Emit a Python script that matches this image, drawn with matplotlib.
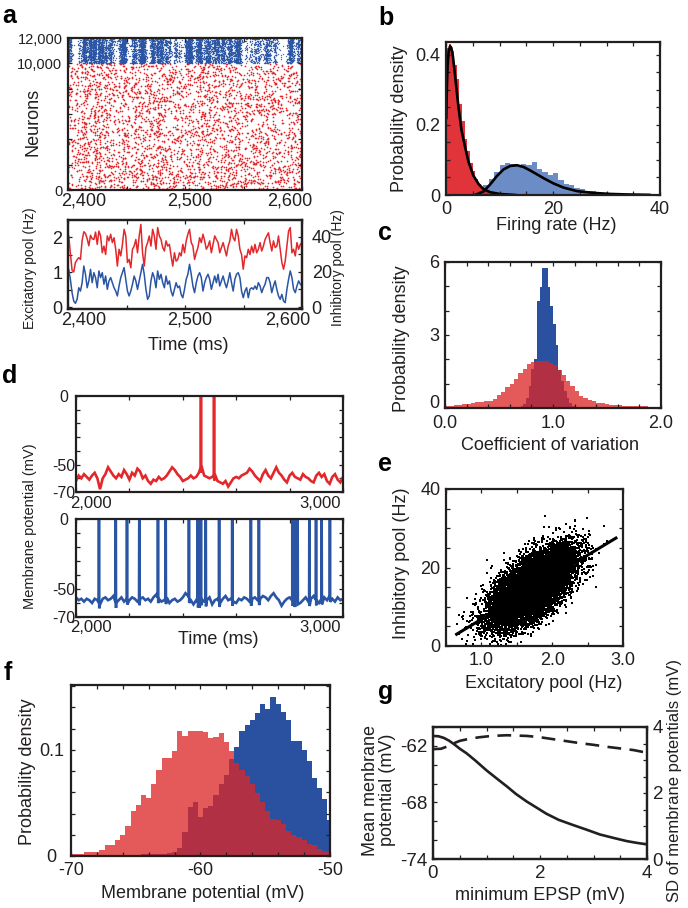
import numpy as np
import matplotlib
matplotlib.use("Agg")
import matplotlib.pyplot as plt

plt.rcParams["font.family"] = ["Liberation Sans", "DejaVu Sans"]
plt.rcParams["axes.unicode_minus"] = False
INK = "#231F20"
plt.rcParams["text.color"] = INK

# ======================= data =======================
# panel a: population rates, 2,400-2,600 ms
exc_rate_hz = [2.03, 1.55, 1.05, 1.0, 1.27, 1.35, 1.41, 1.36, 1.9, 2.15, 2.1, 1.95, 1.75, 2.05, 1.95, 1.93,
               2.14, 1.79, 2.17, 2.03, 1.55, 1.74, 1.50, 2.03, 1.89, 2.08, 1.84, 1.98, 1.65, 1.17, 1.65, 1.46,
               1.79, 2.22, 2.03, 1.27, 1.36, 1.12, 1.65, 1.74, 1.93, 1.55, 2.03, 2.36, 1.55, 1.17, 1.70, 1.84,
               2.03, 1.74, 2.22, 2.03, 1.65, 2.27, 2.03, 1.93, 1.70, 1.60, 1.89, 1.74, 1.79, 1.46, 1.17, 1.55,
               1.31, 1.36, 1.55, 1.46, 1.79, 1.55, 1.89, 2.08, 2.22, 1.84, 1.74, 1.36, 1.55, 1.70, 1.98, 1.84,
               2.08, 1.89, 1.65, 1.74, 1.89, 1.55, 1.79, 2.03, 1.93, 1.84, 1.55, 1.70, 1.84, 1.65, 1.46, 1.74,
               1.89, 2.22, 1.98, 1.89, 2.22, 2.03, 1.65, 1.50, 1.08, 1.46, 1.41, 1.65, 1.50, 1.74, 1.55, 1.79,
               1.55, 1.65, 1.84, 1.60, 1.74, 1.93, 2.03, 2.12, 1.84, 1.60, 1.89, 1.70, 1.74, 2.03, 1.65, 1.27,
               1.08, 1.31, 1.74, 2.17, 2.27, 1.55, 1.65, 1.46, 1.84, 1.65, 1.79, 1.84]
inh_rate_hz = [21.5, 15.8, 8.2, 3.4, 2.1, 4.4, 11.0, 9.1, 13.9, 23.4, 18.7, 11.0, 14.9, 21.5, 13.9, 19.6,
               16.8, 11.0, 20.6, 16.8, 19.6, 13.0, 17.7, 10.1, 14.9, 16.8, 13.9, 11.0, 9.1, 6.3, 12.0, 16.8,
               19.6, 22.5, 15.8, 9.1, 6.3, 9.1, 13.0, 17.7, 14.9, 10.1, 14.9, 19.6, 24.4, 18.7, 10.1, 4.4,
               6.3, 14.9, 19.6, 16.8, 11.0, 20.6, 15.8, 18.7, 13.9, 11.0, 17.7, 13.0, 14.9, 9.1, 6.3, 10.1,
               13.9, 11.0, 12.0, 7.2, 5.3, 10.1, 15.8, 18.7, 24.4, 18.7, 12.0, 8.2, 13.9, 17.7, 19.6, 16.8,
               9.1, 13.9, 16.8, 18.7, 15.8, 10.1, 13.9, 17.7, 13.9, 18.7, 12.0, 14.9, 17.7, 13.9, 11.0, 14.9,
               19.6, 13.9, 9.1, 15.8, 18.7, 19.6, 16.8, 9.1, 5.3, 9.1, 11.0, 5.3, 10.1, 11.0, 10.1, 12.0,
               10.1, 13.9, 12.0, 8.2, 11.0, 13.0, 16.8, 16.8, 13.9, 8.2, 12.0, 14.9, 10.1, 6.3, 4.4, 7.2,
               3.4, 2.5, 10.1, 15.8, 20.6, 16.8, 10.1, 8.2, 12.0, 14.9, 13.0, 12.0]
rate_window_ms = [2400.6, 2600.0]
raster_exc_dots = 3400      # number of excitatory spikes shown in the raster
raster_inh_dots = 6500      # number of inhibitory spikes shown in the raster
n_exc_neurons, n_total_neurons = 10000, 12000

# panel b: firing-rate distributions
b_exc_bin, b_inh_bin = 0.5, 1.0
b_exc_density = [0.42, 0.43, 0.41, 0.37, 0.33, 0.26, 0.21, 0.16, 0.126, 0.092, 0.069, 0.045,
                 0.030, 0.021, 0.013, 0.009, 0.007, 0.004, 0.002, 0.001]
b_inh_density = [0, 0, 0.001, 0.002, 0.003, 0.006, 0.012, 0.028, 0.045, 0.065, 0.085, 0.090, 0.089,
                 0.086, 0.089, 0.086, 0.093, 0.075, 0.066, 0.058, 0.062, 0.042, 0.032, 0.029, 0.021,
                 0.016, 0.012, 0.010, 0.008, 0.007, 0.006, 0.005, 0.004, 0.004, 0.003, 0.003, 0.002,
                 0.002, 0.001, 0.001]
b_fit_exc_hz = [0.05, 0.15, 0.3, 0.5, 0.75, 1.0, 1.3, 1.7, 2.3, 2.9, 3.6, 4.2, 5.1, 6.1, 7.0, 8.25, 10, 13]
b_fit_exc_pd = [0.22, 0.30, 0.37, 0.41, 0.425, 0.42, 0.395, 0.34, 0.255, 0.185, 0.135, 0.095, 0.056,
                0.031, 0.017, 0.008, 0.003, 0.0]
b_fit_inh_hz = [5.75, 7, 8.25, 9.5, 10.75, 12, 13.25, 14.5, 15.75, 17, 18.25, 20.1, 22, 24.5, 27.6,
                30.75, 34, 38]
b_fit_inh_pd = [0.002, 0.010, 0.030, 0.054, 0.073, 0.083, 0.085, 0.080, 0.070, 0.059, 0.048, 0.033,
                0.021, 0.011, 0.006, 0.003, 0.0015, 0.0005]

# panel c: coefficient of variation
c_exc_start, c_exc_bin = 0.0, 0.04
c_exc_density = [0.10, 0.10, 0.12, 0.14, 0.16, 0.17, 0.22, 0.23, 0.25, 0.27, 0.30, 0.38, 0.52, 0.66,
                 0.85, 1.0, 1.2, 1.45, 1.6, 1.8, 1.9, 1.93, 1.93, 1.92, 1.85, 1.75, 1.55, 1.35, 1.1,
                 0.9, 0.7, 0.5, 0.42, 0.33, 0.27, 0.22, 0.19, 0.16, 0.14, 0.12, 0.11, 0.10, 0.09,
                 0.09, 0.08, 0.07, 0.07, 0.06, 0.06, 0.06]
c_inh_start, c_inh_bin = 0.675, 0.025
c_inh_density = [0.05, 0.1, 0.15, 0.4, 0.9, 1.6, 2.0, 4.4, 4.97, 5.75, 5.75, 4.97, 4.2, 3.45, 2.6,
                 1.56, 1.09, 0.68, 0.41, 0.2, 0.1, 0.05, 0.02]

# panel d: single-neuron membrane potentials (2,000-3,000 ms, 10 ms samples)
d_exc_vm = [-62, -58, -60, -57, -59, -61, -58, -56, -60, -68,
            -60, -57, -52, -55, -58, -60, -57, -59, -54, -57,
            -61, -56, -58, -53, -55, -60, -58, -62, -64, -61,
            -62, -59, -61, -60, -58, -55, -52, -54, -57, -59,
            -62, -61, -60, -58, -60, -59, -56, -51, -58, -59,
            -60, -59, -57, -62, -63, -64, -62, -66, -63, -60,
            -59, -60, -58, -57, -56, -53, -55, -58, -60, -62,
            -57, -54, -58, -60, -56, -52, -56, -58, -61, -63,
            -58, -56, -59, -60, -61, -57, -59, -60, -62, -63,
            -58, -56, -59, -57, -62, -64, -59, -57, -61, -63, -59]
d_inh_vm = [-56, -58, -57, -59, -57, -58, -60, -57, -58, -61,
            -57, -56, -58, -57, -55, -60, -58, -56, -59, -57,
            -58, -56, -57, -59, -57, -56, -58, -57, -59, -56,
            -54, -57, -59, -58, -56, -60, -58, -57, -59, -58,
            -56, -53, -55, -58, -61, -58, -60, -57, -59, -58,
            -56, -61, -58, -57, -60, -57, -55, -58, -57, -59,
            -60, -57, -58, -56, -57, -59, -57, -56, -58, -57,
            -55, -56, -58, -55, -53, -56, -58, -62, -59, -57,
            -56, -58, -59, -57, -60, -58, -56, -59, -57, -55,
            -58, -60, -57, -56, -58, -55, -57, -59, -56, -58, -57]
d_window_ms = [2000, 3000]
d_exc_spikes_ms = [2468, 2517]
d_inh_spikes_ms = [2086, 2149, 2191, 2237, 2307, 2336, 2423, 2456, 2462, 2468, 2486, 2536, 2585,
                   2655, 2685, 2810, 2819, 2830, 2874, 2899, 2920, 2951]
spike_peak_mv = 10.0

# panel e: pooled rates of excitatory vs inhibitory neurons
e_n_points = 12000
e_exc_mean, e_exc_sd = 1.72, 0.29
e_inh_at_mean, e_slope, e_inh_resid_sd = 15.0, 10.9, 3.8
e_fit_exc = [0.65, 2.9]
e_fit_inh = [3.0, 27.5]

# panel f: membrane potential distributions (bin centres -70 ... -50, 0.4 mV)
f_bin_first, f_bin = -70.0, 0.4
f_exc_density = [0.0016, 0.0016, 0.002, 0.004, 0.004, 0.0035, 0.006, 0.010, 0.010, 0.015, 0.020,
                 0.028, 0.042, 0.048, 0.057, 0.055, 0.068, 0.081, 0.092, 0.092, 0.099,
                 0.118, 0.113, 0.118, 0.118, 0.118, 0.117, 0.111, 0.112, 0.116, 0.107,
                 0.099, 0.088, 0.081, 0.075, 0.068, 0.059, 0.051, 0.042, 0.035, 0.034,
                 0.030, 0.024, 0.020, 0.018, 0.015, 0.011, 0.010, 0.007, 0.005, 0.004]
f_inh_density = [0.0005] * 10 + [0.001, 0.001, 0.001, 0.001, 0.0015, 0.0015, 0.002, 0.002,
                 0.002, 0.003, 0.004,
                 0.008, 0.023, 0.046, 0.051, 0.037, 0.045, 0.047, 0.057, 0.068, 0.076,
                 0.091, 0.103, 0.118, 0.123, 0.128, 0.135, 0.143, 0.138, 0.150, 0.143,
                 0.136, 0.128, 0.108, 0.108, 0.100, 0.089, 0.073, 0.064, 0.054, 0.034]

# panel g: effect of minimum EPSP
g_epsp_mean = [0.0, 0.1, 0.2, 0.3, 0.4, 0.5, 0.63, 0.8, 1.0, 1.2, 1.38, 1.55, 1.75, 1.95, 2.12, 2.35,
               2.62, 2.9, 3.12, 3.4, 3.62, 3.8, 4.0]
g_mean_vm = [-60.95, -60.98, -61.15, -61.45, -61.85, -62.3, -62.8, -63.6, -64.6, -65.5, -66.3,
             -67.1, -67.9, -68.6, -69.2, -69.85, -70.4, -70.95, -71.4, -71.8, -72.1, -72.28, -72.45]
g_epsp_sd = [0.0, 0.15, 0.25, 0.35, 0.5, 0.7, 0.87, 1.1, 1.38, 1.75, 2.0, 2.25, 2.5, 2.75, 3.0, 3.25,
             3.5, 3.75, 4.0]
g_sd_vm = [3.33, 3.34, 3.40, 3.48, 3.58, 3.65, 3.69, 3.73, 3.75, 3.73, 3.69, 3.63, 3.57, 3.51, 3.46,
           3.40, 3.35, 3.30, 3.22]

# ======================= style =======================
RED = "#E3282B"
BLUE = "#2A55A5"
B_RED = "#DD1E24"
B_BLUE = "#6C8CC6"
H_RED = "#DC2626"
H_BLUE = "#2A51A0"

W, H = 688, 908
fig = plt.figure(figsize=(W / 100, H / 100), dpi=100)


def axes_px(x0, y0, x1, y1):
    return fig.add_axes([x0 / W, 1 - y1 / H, (x1 - x0) / W, (y1 - y0) / H])


def txt(x, y, s, fs=13, rot=0, **kw):
    fig.text(x / W, 1 - y / H, s, fontsize=fs, rotation=rot, ha="center", va="center",
             color=INK, **kw)


def frame(ax, fs=13, pad=3):
    for sp in ax.spines.values():
        sp.set_linewidth(1.6)
        sp.set_color(INK)
    ax.tick_params(which="both", direction="in", top=True, right=True, length=3, width=0.9,
                   color=INK, labelcolor=INK, labelsize=fs, pad=pad)


def center_ylabels(ax):
    for lab in ax.get_yticklabels():
        lab.set_horizontalalignment("center")


def panel(x, y, s):
    fig.text(x / W, 1 - y / H, s, fontsize=18, fontweight="bold", ha="left", va="baseline",
             color="black")


rng = np.random.default_rng(11)

# ----- a: raster -----
axr = axes_px(68, 38, 302, 190)
frame(axr, fs=10.5, pad=4)
t_grid = np.linspace(rate_window_ms[0], rate_window_ms[1], len(exc_rate_hz))
dt = t_grid[1] - t_grid[0]
w_e = np.array(exc_rate_hz) / np.sum(exc_rate_hz)
idx = rng.choice(len(t_grid), size=raster_exc_dots, p=w_e)
te = t_grid[idx] + rng.uniform(-dt / 2, dt / 2, raster_exc_dots)
ne = rng.uniform(0, n_exc_neurons, raster_exc_dots)
w_i = np.array(inh_rate_hz) ** 3
w_i = w_i / w_i.sum()
idx = rng.choice(len(t_grid), size=raster_inh_dots, p=w_i)
ti = t_grid[idx] + rng.uniform(-dt / 2, dt / 2, raster_inh_dots)
ni = rng.uniform(n_exc_neurons, n_total_neurons, raster_inh_dots)
axr.scatter(te, ne, s=1.5, marker="o", c=RED, linewidths=0)
axr.scatter(ti, ni, s=1.0, marker="o", c=BLUE, linewidths=0, alpha=0.85)
axr.set_xlim(2400, 2600)
axr.set_ylim(0, n_total_neurons)
axr.set_yticks([0, 10000, 12000], ["0", "10,000", "12,000"])
axr.set_yticks(np.arange(0, 12001, 2000), minor=True)
axr.set_xticks([2400, 2450, 2500, 2550, 2600], [])
for x, s in [(84, "2,400"), (190, "2,500"), (290, "2,600")]:
    txt(x, 201, s, fs=13)
txt(33, 122, "Neurons", fs=13, rot=90)

# ----- a: rates -----
axt = axes_px(68, 220, 302, 309)
frame(axt, fs=13, pad=4)
axt.tick_params(right=False)
axt.plot(t_grid, exc_rate_hz, color=RED, lw=1.1)
axt.set_xlim(2400, 2600)
axt.set_ylim(-0.057, 2.486)
axt.set_yticks([0, 1, 2], ["0", "1", "2"])
axt.set_yticks(np.arange(0, 2.01, 0.5), minor=True)
axt.set_xticks([2400, 2450, 2500, 2550, 2600], [])
axt2 = axt.twinx()
axt2.plot(t_grid, inh_rate_hz, color=BLUE, lw=1.1)
axt2.set_ylim(-1.14, 49.7)
for sp in axt2.spines.values():
    sp.set_linewidth(1.6)
    sp.set_color(INK)
axt2.tick_params(which="both", direction="in", length=3, width=0.9, color=INK, labelcolor=INK,
                 labelsize=13, pad=7)
axt2.set_yticks([0, 20, 40], ["0", "20", "40"])
axt2.set_yticks(np.arange(0, 41, 10), minor=True)
for x, s in [(84, "2,400"), (190, "2,500"), (288, "2,600")]:
    txt(x, 320, s, fs=13)
txt(30, 268, "Excitatory pool (Hz)", fs=10, rot=90)
txt(338, 268, "Inhibitory pool (Hz)", fs=10, rot=90)
txt(188, 345, "Time (ms)", fs=13)

# ----- b -----
axb = axes_px(446, 42, 660, 195)
frame(axb, fs=13, pad=4)
eb_i = np.arange(len(b_inh_density) + 1) * b_inh_bin
eb_e = np.arange(len(b_exc_density) + 1) * b_exc_bin
axb.stairs(b_inh_density, eb_i, fill=True, color=B_BLUE, linewidth=0)
axb.stairs(b_exc_density, eb_e, fill=True, color=B_RED, alpha=0.9, linewidth=0)
axb.plot(b_fit_exc_hz, b_fit_exc_pd, color="black", lw=1.9)
axb.plot(b_fit_inh_hz, b_fit_inh_pd, color="black", lw=1.9)
axb.set_xlim(0, 40)
axb.set_ylim(0, 0.437)
axb.set_xticks([0, 20, 40], ["0", "20", "40"])
axb.set_xticks(np.arange(0, 41, 5), minor=True)
axb.set_yticks([0, 0.2, 0.4], ["0", "0.2", "0.4"])
axb.set_yticks(np.arange(0, 0.41, 0.05), minor=True)
txt(400, 119, "Probability density", fs=13, rot=90)
txt(556, 226, "Firing rate (Hz)", fs=13)

# ----- c -----
axc = axes_px(445, 262, 661, 408)
frame(axc, fs=13, pad=4)
axc.tick_params(axis="x", pad=5)
ec_i = c_inh_start + np.arange(len(c_inh_density) + 1) * c_inh_bin
ec_e = c_exc_start + np.arange(len(c_exc_density) + 1) * c_exc_bin
axc.stairs(c_inh_density, ec_i, fill=True, color=H_BLUE, linewidth=0)
axc.stairs(c_exc_density, ec_e, fill=True, color=H_RED, alpha=0.76, linewidth=0)
axc.set_xlim(0, 2)
axc.set_ylim(0, 5.96)
axc.set_xticks([0, 1, 2], ["0.0", "1.0", "2.0"])
axc.set_xticks(np.arange(0, 2.01, 0.2), minor=True)
axc.set_yticks([0, 3, 6], ["0", "3", "6"])
axc.set_yticks(np.arange(0, 6.1, 1), minor=True)
axc.get_yticklabels()[0].set_verticalalignment("baseline")
txt(401, 339, "Probability density", fs=13, rot=90)
txt(550, 445, "Coefficient of variation", fs=13)


# ----- d -----
def with_spikes(t, v, spikes):
    tt = list(t)
    vv = list(v)
    for s in spikes:
        base = float(np.interp(s, t, v))
        tt += [s - 0.9, s, s + 0.9]
        vv += [base, spike_peak_mv, base - 4]
    order = np.argsort(tt, kind="stable")
    return np.array(tt)[order], np.array(vv)[order]


for (y0, y1), vm, spk, col in [((396, 492), d_exc_vm, d_exc_spikes_ms, RED),
                                ((519, 617), d_inh_vm, d_inh_spikes_ms, BLUE)]:
    ax = axes_px(76, y0, 343, y1)
    frame(ax, fs=11.5, pad=9)
    t = np.linspace(d_window_ms[0], d_window_ms[1], len(vm))
    tt, vv = with_spikes(t, vm, spk)
    ax.plot(tt, vv, color=col, lw=1.9, solid_joinstyle="miter")
    ax.set_xlim(*d_window_ms)
    ax.set_ylim(-70, 0)
    ax.set_yticks([-70, -50, 0], ["-70", "-50", "0"])
    ax.set_yticks(np.arange(-70, 1, 10), minor=True)
    ax.set_xticks(np.arange(2000, 3001, 200), [])
    center_ylabels(ax)
    txt(91, y1 + 11, "2,000", fs=12)
    txt(320, y1 + 11, "3,000", fs=12)
txt(30, 526, "Membrane potential (mV)", fs=10.5, rot=90)
txt(218, 640, "Time (ms)", fs=13)

# ----- e -----
axe = axes_px(446, 489, 623, 646)
frame(axe, fs=13, pad=4)
ex = rng.normal(e_exc_mean, e_exc_sd, e_n_points)
iy = e_inh_at_mean + e_slope * (ex - e_exc_mean) + rng.normal(0, e_inh_resid_sd, e_n_points)
axe.scatter(ex, iy, s=0.75, marker="s", c="black", linewidths=0)
axe.plot(e_fit_exc, e_fit_inh, color="black", lw=2.2)
axe.set_xlim(0.5, 3.0)
axe.set_ylim(0, 40)
axe.set_xticks([1, 2, 3], ["1.0", "2.0", "3.0"])
axe.set_xticks(np.arange(0.5, 3.01, 0.5), minor=True)
axe.set_yticks([0, 20, 40], ["0", "20", "40"])
axe.set_yticks(np.arange(0, 41, 5), minor=True)
txt(402, 563, "Inhibitory pool (Hz)", fs=13, rot=90)
txt(544, 683, "Excitatory pool (Hz)", fs=13)

# ----- f -----
axf = axes_px(71, 685, 330, 856)
frame(axf, fs=13, pad=4)
axf.tick_params(axis="y", pad=14)
ef = f_bin_first - f_bin / 2 + np.arange(len(f_exc_density) + 1) * f_bin
axf.stairs(f_inh_density, ef, fill=True, color=H_BLUE, linewidth=0)
axf.stairs(f_exc_density, ef, fill=True, color=H_RED, alpha=0.76, linewidth=0)
axf.set_xlim(-70, -50)
axf.set_ylim(0, 0.161)
axf.set_xticks([-70, -60, -50], ["-70", "-60", "-50"])
axf.set_xticks(np.arange(-70, -49, 2), minor=True)
axf.set_yticks([0, 0.1], ["0", "0.1"])
axf.set_yticks(np.arange(0, 0.161, 0.02), minor=True)
center_ylabels(axf)
txt(28, 772, "Probability density", fs=13, rot=90)
txt(203, 894, "Membrane potential (mV)", fs=13)

# ----- g -----
axg = axes_px(433, 727, 647, 859)
frame(axg, fs=13.5, pad=4)
axg.tick_params(right=False)
axg.plot(g_epsp_mean, g_mean_vm, color=INK, lw=1.9)
axg.set_xlim(0, 4)
axg.set_ylim(-74, -60)
axg.set_xticks([0, 2, 4], ["0", "2", "4"])
axg.set_xticks(np.arange(0, 4.01, 0.5), minor=True)
axg.set_yticks([-74, -68, -62], ["-74", "-68", "-62"])
axg.set_yticks(np.arange(-74, -59, 2), minor=True)
axg2 = axg.twinx()
axg2.plot(g_epsp_sd, g_sd_vm, color=INK, lw=1.9, linestyle=(0, (5.2, 3.2)))
axg2.set_ylim(0, 4)
for sp in axg2.spines.values():
    sp.set_linewidth(1.6)
    sp.set_color(INK)
axg2.tick_params(which="both", direction="in", length=3, width=0.9, color=INK, labelcolor=INK,
                 labelsize=13.5, pad=4)
axg2.set_yticks([0, 2, 4], ["0", "2", "4"])
axg2.set_yticks(np.arange(0, 4.01, 0.5), minor=True)
fig.text(379 / W, 1 - 790 / H, "Mean menbrane\npotential (mV)", fontsize=13, rotation=90,
         ha="center", va="center", linespacing=1.05, color=INK, multialignment="center")
txt(675, 780, "SD of membrane potentials (mV)", fs=12, rot=90)
txt(540, 895, "minimum EPSP (mV)", fs=13)

# ----- panel letters -----
panel(2, 23, "a")
panel(378, 25, "b")
panel(378, 240, "c")
panel(2, 383, "d")
panel(378, 471, "e")
panel(4, 680, "f")
panel(378, 699, "g")

fig.savefig("out.png", dpi=100)
